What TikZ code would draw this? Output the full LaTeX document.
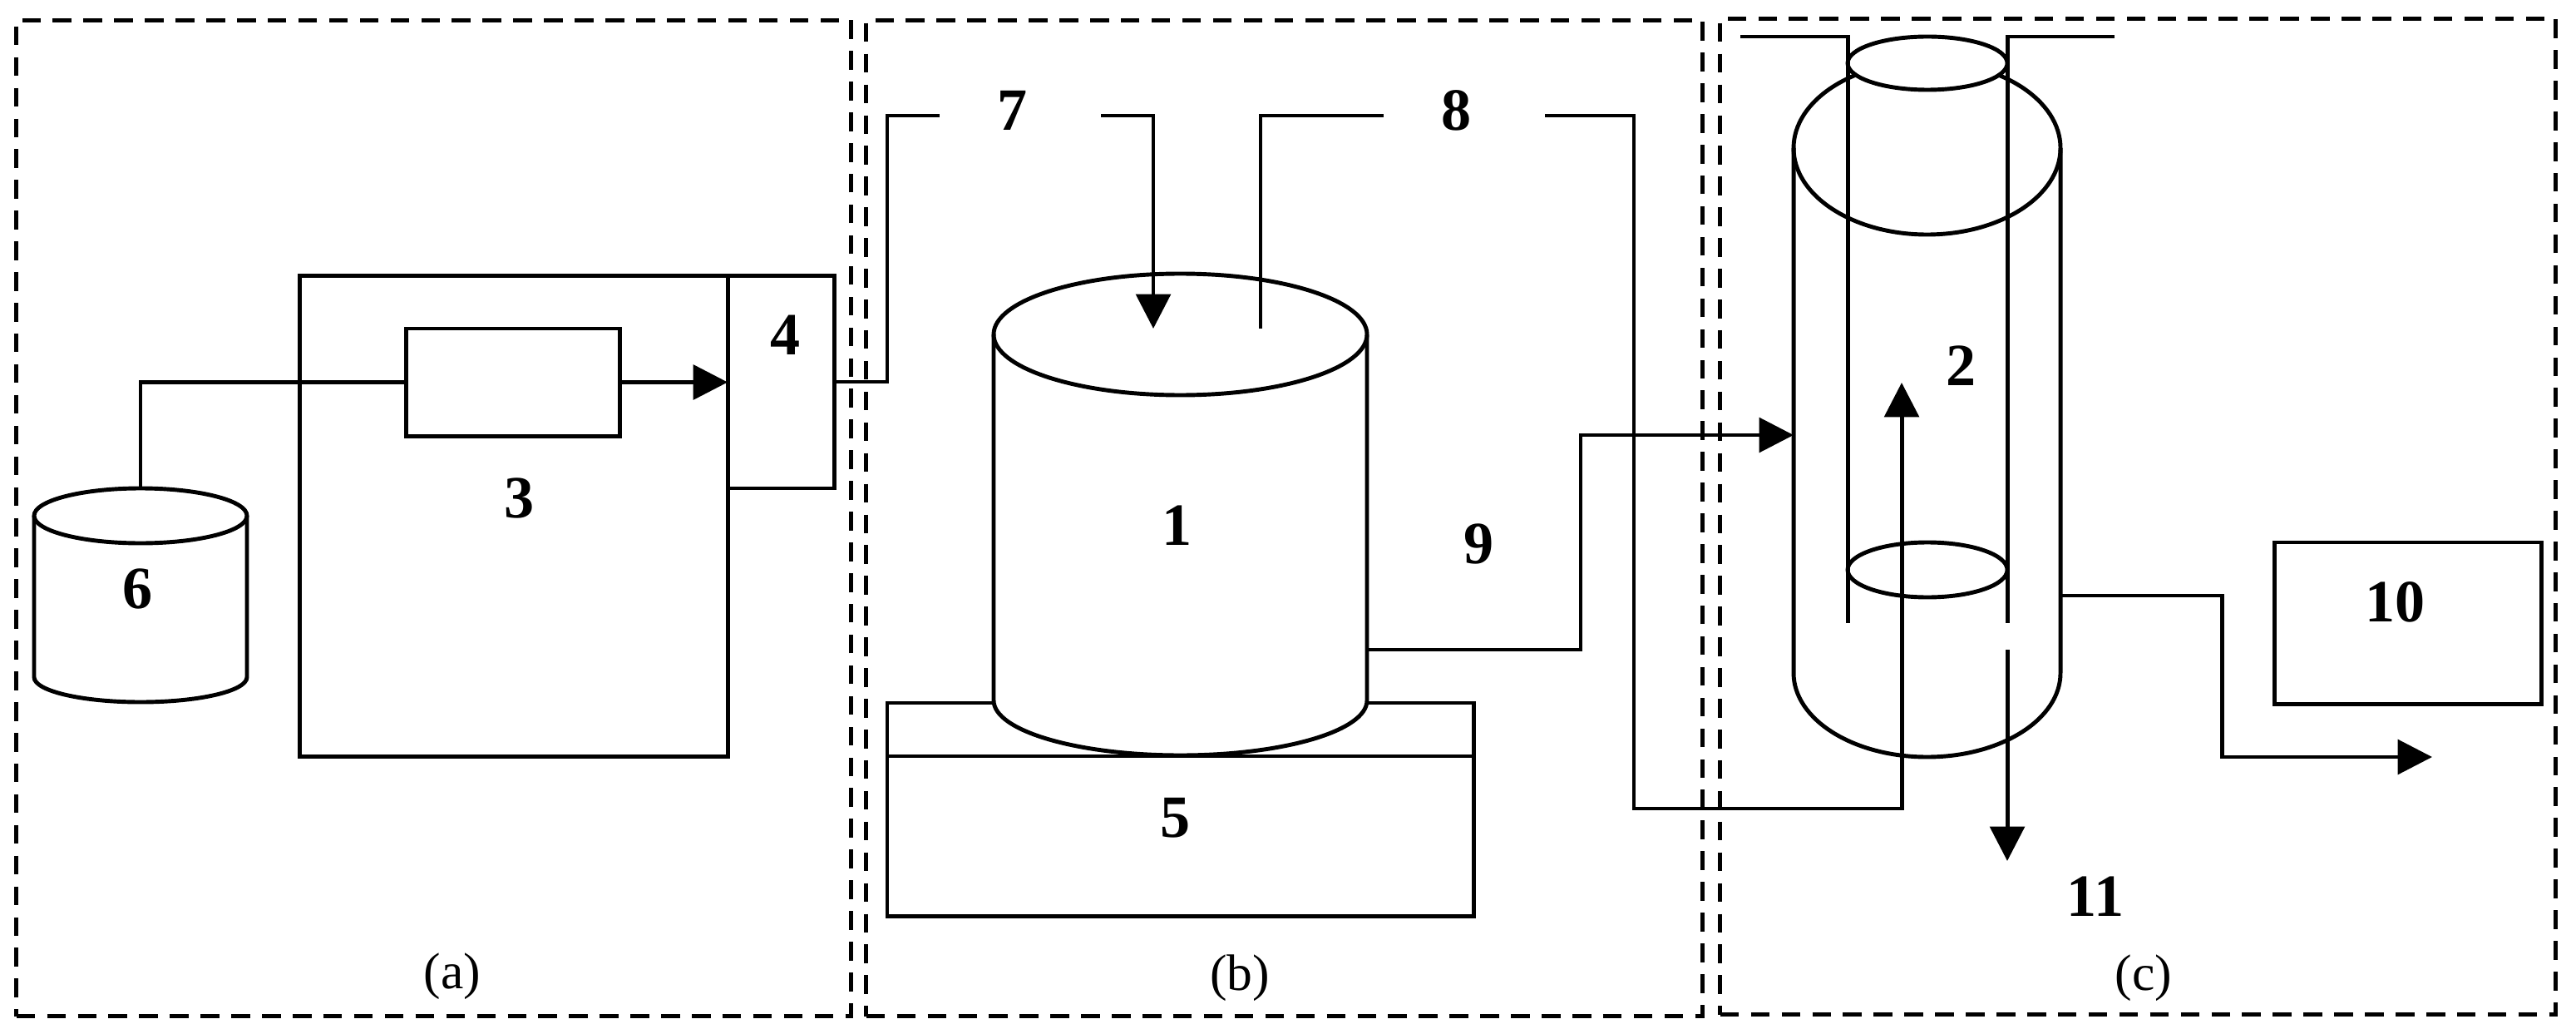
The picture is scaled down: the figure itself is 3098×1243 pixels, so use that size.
\documentclass[tikz,border=0pt]{standalone}
\usepackage{fontspec}
\setmainfont{Liberation Serif}
\usetikzlibrary{arrows.meta,positioning}
\tikzset{
  pipe/.style={line width=1.4pt,line join=miter},
  zone/.style={draw,line width=1.5pt,dash pattern=on 6.4pt off 4.1pt,minimum width=#1,minimum height=11.97cm,inner sep=0pt,outer sep=0pt},
  boxnode/.style={draw,line width=1.4pt,inner sep=0pt,outer sep=0pt},
  num/.style={inner sep=0pt,font=\fontsize{20.5}{24}\selectfont\bfseries},
  partname/.style={inner sep=0pt,font=\fontsize{17.5}{21}\selectfont}
}
\begin{document}
\begin{tikzpicture}[x=0.01cm,y=-0.01cm,>={Triangle[length=11.8pt,width=11.8pt]}]
\useasboundingbox (0,0) rectangle (3098,1243);
% dashed zones
\node[zone=10.03cm] (zoneA) at (521.5,623) {};
\node[zone=10.05cm] (zoneB) at (1544.5,623) {};
\node[zone=10.04cm] (zoneC) at (2571,621) {};
% part a
\node[boxnode,minimum width=5.14cm,minimum height=5.77cm] (oven) at (618,620.5) {};
\node[boxnode,minimum width=1.28cm,minimum height=2.55cm,anchor=north west] (mixer) at (oven.north east) {};
\node[boxnode,minimum width=2.56cm,minimum height=1.29cm] (pump) at (617,459.5) {};
\draw[pipe,fill=white] (41,620) -- (41,814) arc[start angle=180,end angle=0,x radius=128,y radius=30] -- (297,620);
\draw[pipe] (169,620) ellipse[x radius=128,y radius=33];
\coordinate (tankTop) at (169,587);
\draw[pipe] (tankTop) |- (pump.west);
\draw[pipe,->] (pump.east) -- (mixer.west |- pump.east);
% part b
\node[boxnode,minimum width=7.05cm,minimum height=2.56cm,anchor=north west] (base) at (1067,845) {};
\draw[pipe] (1067,909) -- (1772,909);
\draw[pipe,fill=white] (1195,402) -- (1195,842) arc[start angle=180,end angle=0,x radius=224.5,y radius=66] -- (1644,402);
\draw[pipe] (1419.5,402) ellipse[x radius=224.5,y radius=73];
\coordinate (mixOut) at (1003,459);
\coordinate (gasA) at (1130,139);
\coordinate (gasB) at (1324,139);
\coordinate (inTip) at (1387,395);
\coordinate (ventIn) at (1516,395);
\coordinate (ventA) at (1664,139);
\coordinate (ventB) at (1858,139);
\coordinate (cylOut) at (1644,781);
\draw[pipe] (mixOut) -| (1067,139) -- (gasA);
\draw[pipe,->] (gasB) -| (inTip);
\draw[pipe] (ventIn) |- (ventA);
% part c
\draw[pipe] (2157,178) -- (2157,809) arc[start angle=180,end angle=0,x radius=160.5,y radius=101] -- (2478,178);
\draw[pipe] (2317.5,178) ellipse[x radius=160.5,y radius=104];
\draw[pipe,fill=white] (2318,76) ellipse[x radius=96,y radius=32];
\draw[pipe] (2318,685) ellipse[x radius=96,y radius=33];
\coordinate (tubeLA) at (2222,44);
\coordinate (tubeLB) at (2222,749);
\coordinate (tubeRA) at (2414,44);
\coordinate (tubeRB) at (2414,749);
\coordinate (drainA) at (2414,781);
\coordinate (drainB) at (2414,1035);
\coordinate (flangeL) at (2093,44);
\coordinate (flangeR) at (2543,44);
\coordinate (reacIn) at (2157,523);
\coordinate (reacOut) at (2478,716);
\coordinate (upTip) at (2287,460);
\coordinate (outTip) at (2925,910);
\draw[pipe] (flangeL) -- (tubeLA) -- (tubeLB);
\draw[pipe] (flangeR) -- (tubeRA) -- (tubeRB);
\draw[pipe,->] (drainA) -- (drainB);
\draw[pipe,->] (cylOut) -| (1901,523) -- (reacIn);
\draw[pipe,->] (ventB) -| (1965,972) -| (upTip);
\draw[pipe,->] (reacOut) -| (2672,910) -- (outTip);
\node[boxnode,minimum width=3.21cm,minimum height=1.94cm,anchor=north west] (detector) at (2735,652) {};
% labels
\node[num] (n1) at (1415,632) {1};
\node[num] (n2) at (2358,440) {2};
\node[num] (n3) at (625,599) {3};
\node[num] (n4) at (945,403) {4};
\node[num] (n5) at (1413,983) {5};
\node[num] (n6) at (166,708) {6};
\node[num] (n7) at (1218,133) {7};
\node[num] (n8) at (1751,133) {8};
\node[num] (n9) at (1778,654) {9};
\node[num] (n10) at (2880,724) {10};
\node[num] (n11) at (2520,1078) {11};
\node[partname] (capA) at (544,1174) {(a)};
\node[partname] (capB) at (1491,1176) {(b)};
\node[partname] (capC) at (2578,1176) {(c)};
\end{tikzpicture}
\end{document}
